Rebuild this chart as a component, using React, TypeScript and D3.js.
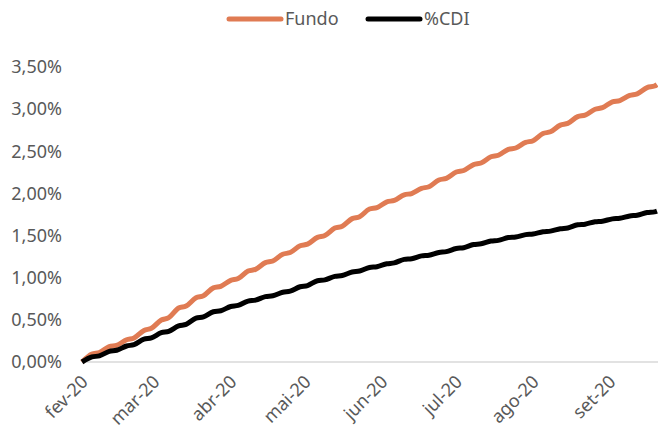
import * as d3 from "d3";

// weekly readings: value on each Monday and on the Friday of the same week (in %)
const mondays = [
  "2020-02-03", "2020-02-10", "2020-02-17", "2020-02-24", "2020-03-02", "2020-03-09",
  "2020-03-16", "2020-03-23", "2020-03-30", "2020-04-06", "2020-04-13", "2020-04-20",
  "2020-04-27", "2020-05-04", "2020-05-11", "2020-05-18", "2020-05-25", "2020-06-01",
  "2020-06-08", "2020-06-15", "2020-06-22", "2020-06-29", "2020-07-06", "2020-07-13",
  "2020-07-20", "2020-07-27", "2020-08-03", "2020-08-10", "2020-08-17", "2020-08-24",
  "2020-08-31", "2020-09-07", "2020-09-14",
];

const fundoMon = [
  0, 0.112, 0.198, 0.286, 0.4, 0.526, 0.664, 0.786, 0.898, 0.99, 1.099, 1.199,
  1.299, 1.399, 1.501, 1.611, 1.724, 1.832, 1.917, 1.999, 2.08, 2.179, 2.272, 2.361,
  2.453, 2.539, 2.626, 2.731, 2.831, 2.929, 3.017, 3.102, 3.182,
];
const fundoFri = [
  0.094, 0.182, 0.264, 0.375, 0.498, 0.64, 0.762, 0.88, 0.968, 1.079, 1.179, 1.279,
  1.379, 1.479, 1.589, 1.701, 1.815, 1.9, 1.984, 2.06, 2.16, 2.254, 2.342, 2.435,
  2.523, 2.605, 2.711, 2.811, 2.911, 2.999, 3.087, 3.163, 3.256,
];

const cdiMon = [
  0, 0.073, 0.139, 0.206, 0.286, 0.364, 0.446, 0.535, 0.608, 0.671, 0.734, 0.786,
  0.841, 0.907, 0.974, 1.026, 1.079, 1.131, 1.176, 1.226, 1.267, 1.309, 1.356, 1.402,
  1.443, 1.483, 1.518, 1.553, 1.59, 1.635, 1.671, 1.705, 1.741,
];
const cdiFri = [
  0.06, 0.126, 0.19, 0.27, 0.348, 0.428, 0.52, 0.596, 0.658, 0.723, 0.776, 0.828,
  0.893, 0.964, 1.016, 1.068, 1.122, 1.165, 1.218, 1.259, 1.3, 1.347, 1.394, 1.435,
  1.476, 1.511, 1.546, 1.581, 1.628, 1.664, 1.698, 1.733, 1.773,
];

// last days shown at the right edge
const tailDates = ["2020-09-21", "2020-09-22"];
const fundoTail = [3.274, 3.292];
const cdiTail = [1.781, 1.79];

const xTickLabels = ["fev-20", "mar-20", "abr-20", "mai-20", "jun-20", "jul-20", "ago-20", "set-20"];
const yTicks = [0, 0.5, 1, 1.5, 2, 2.5, 3, 3.5];

const parse = d3.timeParse("%Y-%m-%d");

type Point = { date: Date; value: number };

function buildSeries(mon: number[], fri: number[], tail: number[]): Point[] {
  const pts: Point[] = [];
  mondays.forEach((m, i) => {
    const d = parse(m) as Date;
    pts.push({ date: d, value: mon[i] });
    pts.push({ date: d3.timeDay.offset(d, 4), value: fri[i] });
  });
  tailDates.forEach((t, i) => pts.push({ date: parse(t) as Date, value: tail[i] }));
  return pts;
}

const W = 658;
const H = 428;
const FONT = "'Noto Sans', sans-serif";
const GRAY = "#595959";
const ORANGE = "#E07B53";

export default function App() {
  const fundo = buildSeries(fundoMon, fundoFri, fundoTail);
  const cdi = buildSeries(cdiMon, cdiFri, cdiTail);

  const start = parse(mondays[0]) as Date;
  const end = parse(tailDates[tailDates.length - 1]) as Date;

  const x = d3.scaleTime().domain([start, end]).range([82, 657]);
  const y = d3.scaleLinear().domain([0, 3.5]).range([362, 67]);

  const line = d3
    .line<Point>()
    .x((d) => x(d.date))
    .y((d) => y(d.value))
    .curve(d3.curveMonotoneX);

  const xTicks = xTickLabels.map((_, i) => d3.timeMonth.offset(start, i));
  const fmt = (v: number) => d3.format(".2f")(v).replace(".", ",") + "%";

  return (
    <svg
      width={W}
      height={H}
      style={{ position: "absolute", left: 0, top: 0, background: "#fff" }}
      fontFamily={FONT}
    >
      {/* legend */}
      <g>
        <line x1={229} x2={281} y1={19} y2={19} stroke={ORANGE} strokeWidth={5} strokeLinecap="round" />
        <text x={285} y={19} dy="0.35em" fontSize={18} fill={GRAY}>Fundo</text>
        <line x1={368} x2={420} y1={19} y2={19} stroke="#000" strokeWidth={5} strokeLinecap="round" />
        <text x={424} y={19} dy="0.35em" fontSize={18} fill={GRAY}>%CDI</text>
      </g>

      {/* y axis labels */}
      {yTicks.map((t) => (
        <text key={t} x={62} y={y(t)} dy="0.35em" textAnchor="end" fontSize={18} fill={GRAY}>
          {fmt(t)}
        </text>
      ))}

      {/* x axis */}
      <line x1={82} x2={658} y1={y(0)} y2={y(0)} stroke="#D9D9D9" strokeWidth={1.5} />
      {xTicks.map((d, i) => {
        const px = x(d) + 7;
        const py = 383;
        return (
          <text
            key={i}
            x={px}
            y={py}
            textAnchor="end"
            fontSize={18}
            fill={GRAY}
            transform={`rotate(-45, ${px}, ${py})`}
          >
            {xTickLabels[i]}
          </text>
        );
      })}

      {/* series */}
      <path d={line(fundo) || ""} fill="none" stroke={ORANGE} strokeWidth={5} strokeLinejoin="round" />
      <path d={line(cdi) || ""} fill="none" stroke="#000" strokeWidth={5} strokeLinejoin="round" />
    </svg>
  );
}
